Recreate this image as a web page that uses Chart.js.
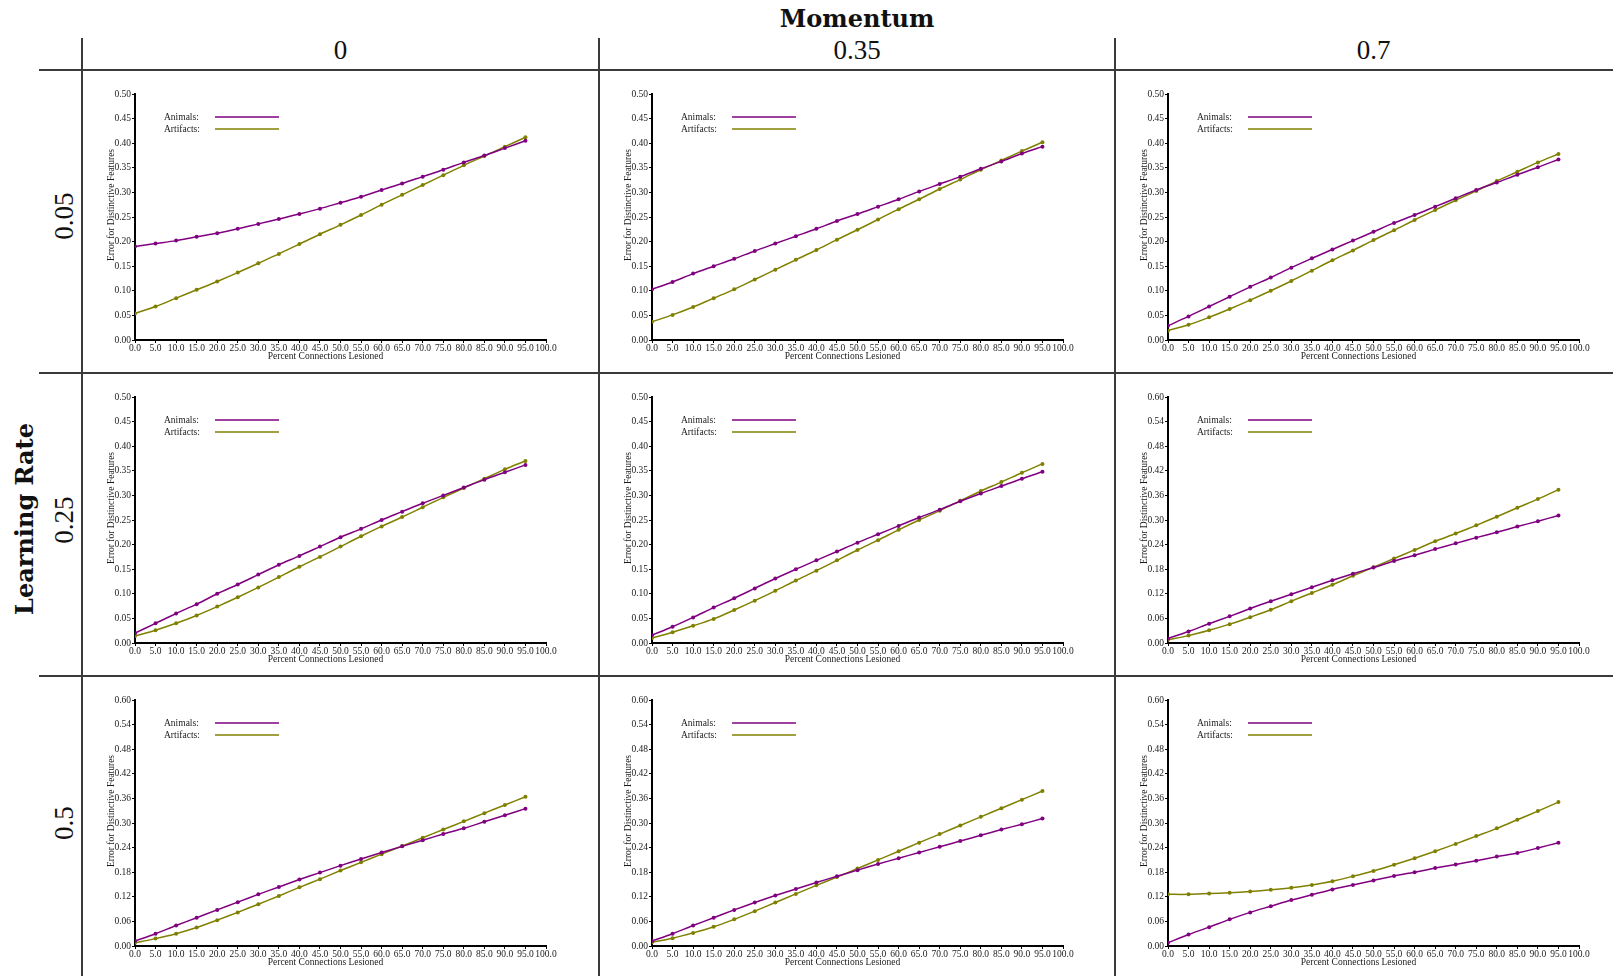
<!DOCTYPE html>
<html>
<head>
<meta charset="utf-8">
<script src="https://cdn.jsdelivr.net/npm/chart.js@4.4.1/dist/chart.umd.min.js"></script>
<style>
  html, body { margin: 0; padding: 0; background: #fff; width: 1613px; height: 976px; overflow: hidden; position: relative; }
  .hl { position: absolute; height: 1.5px; background: #3a3a3a; }
  .vl { position: absolute; width: 1.5px; background: #3a3a3a; }
  .lbl { position: absolute; font-family: "Liberation Serif", serif; color: #111; white-space: nowrap; transform: translate(-50%, -50%); line-height: 1; }
  .head { font-family: "DejaVu Serif", serif; font-weight: bold; font-size: 24px; }
  .val { font-size: 27px; }
  .rot { transform: translate(-50%, -50%) rotate(-90deg); }
  canvas { position: absolute; }
</style>
</head>
<body>
<script>
// Lesion levels (percent of connections removed)
const lesionPercent = [0, 5, 10, 15, 20, 25, 30, 35, 40, 45, 50, 55, 60, 65, 70, 75, 80, 85, 90, 95];

const momentumValues = ['0', '0.35', '0.7'];
const learningRateValues = ['0.05', '0.25', '0.5'];
const seriesNames = ['Animals', 'Artifacts'];
const xTitle = 'Percent Connections Lesioned';
const yTitle = 'Error for Distinctive Features';

// y-axis ceiling per panel [learning rate][momentum]
const yAxisMax = [
  [0.5, 0.5, 0.5],
  [0.5, 0.5, 0.6],
  [0.6, 0.6, 0.6]
];

// Learning rate 0.05
const animals_lr005_m0    = [0.190,0.196,0.202,0.210,0.217,0.226,0.236,0.246,0.256,0.267,0.279,0.291,0.305,0.318,0.332,0.346,0.361,0.375,0.390,0.405];
const artifacts_lr005_m0  = [0.054,0.068,0.085,0.102,0.119,0.137,0.156,0.175,0.195,0.215,0.234,0.254,0.275,0.295,0.315,0.335,0.355,0.374,0.393,0.412];
const animals_lr005_m035  = [0.103,0.118,0.135,0.150,0.165,0.181,0.196,0.211,0.226,0.242,0.256,0.271,0.286,0.302,0.317,0.332,0.348,0.363,0.379,0.393];
const artifacts_lr005_m035= [0.037,0.051,0.067,0.085,0.103,0.123,0.143,0.163,0.183,0.204,0.224,0.245,0.266,0.286,0.307,0.326,0.346,0.365,0.384,0.402];
const animals_lr005_m07   = [0.029,0.048,0.068,0.088,0.108,0.127,0.147,0.166,0.184,0.202,0.220,0.238,0.254,0.271,0.288,0.305,0.320,0.336,0.351,0.367];
const artifacts_lr005_m07 = [0.019,0.031,0.046,0.063,0.081,0.100,0.120,0.141,0.162,0.182,0.203,0.223,0.244,0.264,0.284,0.303,0.323,0.342,0.361,0.378];

// Learning rate 0.25
const animals_lr025_m0    = [0.020,0.040,0.060,0.079,0.100,0.119,0.139,0.159,0.177,0.196,0.215,0.232,0.250,0.267,0.284,0.300,0.316,0.332,0.347,0.362];
const artifacts_lr025_m0  = [0.014,0.026,0.040,0.056,0.074,0.093,0.113,0.134,0.155,0.175,0.196,0.217,0.237,0.256,0.276,0.296,0.315,0.334,0.353,0.370];
const animals_lr025_m035  = [0.016,0.033,0.052,0.072,0.091,0.111,0.131,0.150,0.168,0.186,0.204,0.221,0.238,0.255,0.271,0.288,0.304,0.319,0.334,0.348];
const artifacts_lr025_m035= [0.010,0.022,0.035,0.049,0.067,0.086,0.106,0.127,0.147,0.168,0.189,0.209,0.230,0.250,0.269,0.289,0.309,0.327,0.346,0.364];
const animals_lr025_m07   = [0.011,0.028,0.047,0.065,0.084,0.102,0.119,0.136,0.153,0.169,0.184,0.200,0.214,0.229,0.243,0.257,0.270,0.284,0.297,0.311];
const artifacts_lr025_m07 = [0.008,0.018,0.031,0.046,0.063,0.081,0.102,0.122,0.142,0.164,0.185,0.206,0.227,0.248,0.267,0.287,0.308,0.330,0.351,0.374];

// Learning rate 0.5
const animals_lr05_m0     = [0.012,0.030,0.050,0.069,0.088,0.107,0.126,0.144,0.162,0.179,0.196,0.212,0.228,0.243,0.258,0.273,0.287,0.303,0.319,0.335];
const artifacts_lr05_m0   = [0.008,0.018,0.030,0.045,0.063,0.082,0.102,0.122,0.143,0.163,0.184,0.204,0.224,0.244,0.264,0.284,0.304,0.324,0.344,0.364];
const animals_lr05_m035   = [0.012,0.030,0.050,0.069,0.088,0.106,0.123,0.139,0.155,0.170,0.185,0.200,0.214,0.228,0.242,0.256,0.270,0.284,0.297,0.311];
const artifacts_lr05_m035 = [0.009,0.019,0.032,0.047,0.065,0.085,0.106,0.127,0.148,0.168,0.189,0.210,0.231,0.252,0.273,0.294,0.315,0.336,0.357,0.378];
const animals_lr05_m07    = [0.008,0.028,0.046,0.065,0.082,0.097,0.112,0.125,0.138,0.149,0.160,0.171,0.180,0.190,0.199,0.208,0.218,0.227,0.239,0.252];
const artifacts_lr05_m07  = [0.126,0.126,0.128,0.130,0.133,0.137,0.142,0.149,0.158,0.170,0.183,0.198,0.214,0.231,0.249,0.268,0.287,0.308,0.329,0.351];

const panelSeries = [
  [[animals_lr005_m0, artifacts_lr005_m0], [animals_lr005_m035, artifacts_lr005_m035], [animals_lr005_m07, artifacts_lr005_m07]],
  [[animals_lr025_m0, artifacts_lr025_m0], [animals_lr025_m035, artifacts_lr025_m035], [animals_lr025_m07, artifacts_lr025_m07]],
  [[animals_lr05_m0,  artifacts_lr05_m0],  [animals_lr05_m035,  artifacts_lr05_m035],  [animals_lr05_m07,  artifacts_lr05_m07]]
];

const seriesColors = ['#800080', '#808000'];

// ---- table frame and headers ----
function addDiv(cls, style, text) {
  const d = document.createElement('div');
  d.className = cls;
  Object.assign(d.style, style);
  if (text !== undefined) d.textContent = text;
  document.body.appendChild(d);
  return d;
}

const colLines = [82, 599, 1115];
const rowLines = [70, 373, 676];
rowLines.forEach(y => addDiv('hl', { left: '39px', top: (y - 0.75) + 'px', width: '1574px' }));
colLines.forEach(x => addDiv('vl', { left: (x - 0.75) + 'px', top: '38px', height: '938px' }));

addDiv('lbl head', { left: '857px', top: '19px' }, 'Momentum');
addDiv('lbl head rot', { left: '25px', top: '519px' }, 'Learning Rate');
momentumValues.forEach((m, c) => {
  const cx = (colLines[c] + (colLines[c + 1] || 1632)) / 2;
  addDiv('lbl val', { left: cx + 'px', top: '50px' }, m);
});
const rowCenters = [216, 520, 823];
learningRateValues.forEach((lr, r) => {
  addDiv('lbl val rot', { left: '64px', top: rowCenters[r] + 'px' }, lr);
});

// ---- per-panel decorations: axis titles and inline key ----
const tickFont = { family: '"Liberation Serif", serif', size: 9.5 };
const panelDecor = {
  id: 'panelDecor',
  afterDraw(chart) {
    const { ctx, chartArea: a } = chart;
    ctx.save();
    ctx.fillStyle = '#1a1a1a';
    ctx.font = '9.5px "Liberation Serif", serif';
    ctx.textBaseline = 'middle';

    ctx.save();
    ctx.translate(a.left - 24, a.top + 111);
    ctx.rotate(-Math.PI / 2);
    ctx.textAlign = 'center';
    ctx.fillText(yTitle, 0, 0);
    ctx.restore();

    ctx.textAlign = 'center';
    ctx.fillText(xTitle, (a.left + a.right) / 2 - 15, a.bottom + 16.5);

    chart.data.datasets.forEach((ds, i) => {
      const y = a.top + 23 + 12 * i;
      ctx.textAlign = 'left';
      ctx.fillStyle = '#1a1a1a';
      ctx.fillText(ds.label + ':', a.left + 29, y);
      ctx.strokeStyle = ds.borderColor;
      ctx.lineWidth = 1.5;
      ctx.beginPath();
      ctx.moveTo(a.left + 80, y);
      ctx.lineTo(a.left + 144, y);
      ctx.stroke();
    });
    ctx.restore();
  }
};

// ---- panels ----
const AX_W = 60, AX_H = 32, PAD_TOP = 24, PAD_RIGHT = 40;
const PLOT_W = 411, PLOT_H = 246;

for (let r = 0; r < 3; r++) {
  for (let c = 0; c < 3; c++) {
    const plotLeft = Math.round(135 + 516.5 * c);
    const plotTop = 94 + 303 * r;
    const cv = document.createElement('canvas');
    const w = AX_W + PLOT_W + PAD_RIGHT;
    const h = PAD_TOP + PLOT_H + AX_H;
    cv.width = w; cv.height = h;
    cv.style.left = (plotLeft - AX_W) + 'px';
    cv.style.top = (plotTop - PAD_TOP) + 'px';
    cv.style.width = w + 'px';
    cv.style.height = h + 'px';
    document.body.appendChild(cv);

    const yMax = yAxisMax[r][c];
    const datasets = panelSeries[r][c].map((vals, i) => ({
      label: seriesNames[i],
      data: lesionPercent.map((x, k) => ({ x: x, y: vals[k] })),
      borderColor: seriesColors[i],
      backgroundColor: seriesColors[i],
      pointBackgroundColor: seriesColors[i],
      borderWidth: 1.5,
      pointRadius: 2,
      pointBorderWidth: 0,
      tension: 0.3,
      fill: false
    }));

    new Chart(cv, {
      type: 'line',
      data: { datasets },
      options: {
        responsive: false,
        animation: false,
        devicePixelRatio: 1,
        layout: { padding: { left: 0, top: PAD_TOP, right: PAD_RIGHT, bottom: 0 } },
        plugins: { legend: { display: false }, tooltip: { enabled: false } },
        scales: {
          x: {
            type: 'linear',
            min: 0, max: 100,
            afterFit(axis) { axis.height = AX_H; axis.paddingLeft = 0; axis.paddingRight = 0; },
            ticks: {
              stepSize: 5, autoSkip: false, maxRotation: 0, minRotation: 0,
              padding: 0, color: '#1a1a1a', font: tickFont,
              callback: v => Number(v).toFixed(1)
            },
            grid: { drawOnChartArea: false, drawTicks: true, tickLength: 3, color: '#000', lineWidth: 1 },
            border: { display: true, color: '#000', width: 2 }
          },
          y: {
            type: 'linear',
            min: 0, max: yMax,
            afterFit(axis) { axis.width = AX_W; axis.paddingTop = 0; axis.paddingBottom = 0; },
            ticks: {
              stepSize: yMax / 10, autoSkip: false, padding: 1,
              color: '#1a1a1a', font: tickFont,
              callback: v => Number(v).toFixed(2)
            },
            grid: { drawOnChartArea: false, drawTicks: true, tickLength: 3, color: '#000', lineWidth: 1 },
            border: { display: true, color: '#000', width: 2 }
          }
        }
      },
      plugins: [panelDecor]
    });
  }
}
</script>
</body>
</html>
